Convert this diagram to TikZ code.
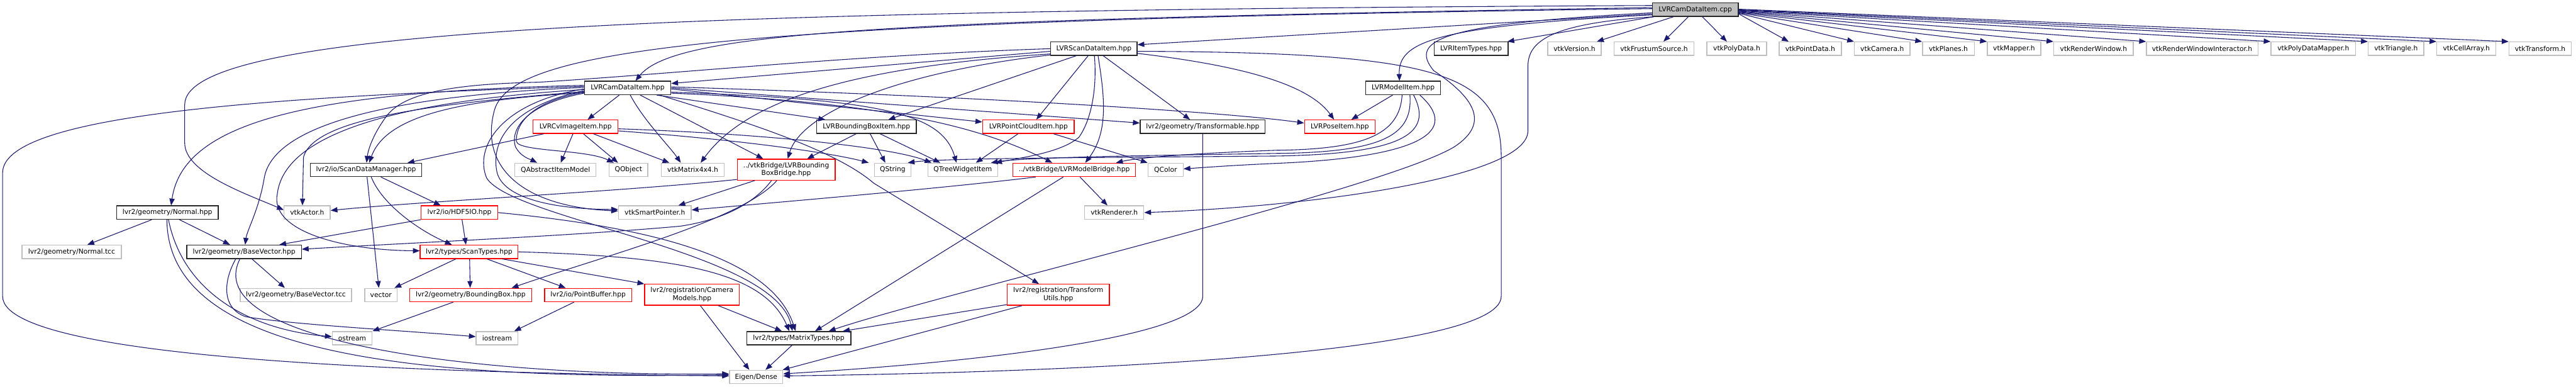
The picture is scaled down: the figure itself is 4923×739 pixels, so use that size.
\documentclass[tikz,border=0pt]{standalone}
\usepackage{fontspec}
\setmainfont{DejaVu Sans}
\usetikzlibrary{arrows.meta,calc}
\definecolor{edgec}{HTML}{191970}
\definecolor{grayb}{HTML}{BFBFBF}
\definecolor{redb}{HTML}{FF0000}
\tikzset{
  nd/.style={draw, rectangle, inner sep=0pt, minimum height=25.6pt, line width=1.6pt,
    align=center, fill=white, font=\fontsize{12.9pt}{15.5pt}\selectfont},
  blk/.style={nd, draw=black!85},
  rdb/.style={nd, draw=redb},
  gry/.style={nd, draw=grayb},
  rootb/.style={nd, draw=black!85, fill=grayb},
  two/.style={minimum height=40pt},
  e/.style={draw=edgec, line width=1.3pt, -{Triangle[length=13pt,width=10pt]}},
}
\begin{document}
\begin{tikzpicture}[x=1pt,y=-1pt]
\fill[white] (0,0) rectangle (4923,739);
\useasboundingbox (0,0) rectangle (4923,739);
% ---------------- nodes ----------------
\node[rootb, minimum width=164pt] (root) at (3240,18.5) {LVRCamDataItem.cpp};
% row 2
\node[blk, minimum width=165pt] (scanh) at (2090.5,93) {LVRScanDataItem.hpp};
\node[blk, minimum width=141pt] (itypes) at (2811.5,93) {LVRItemTypes.hpp};
\node[gry, minimum width=102pt] (vver) at (3009,93) {vtkVersion.h};
\node[gry, minimum width=152pt] (vfrus) at (3161,93) {vtkFrustumSource.h};
\node[gry, minimum width=114pt] (vpoly) at (3319,93) {vtkPolyData.h};
\node[gry, minimum width=119pt] (vpt) at (3459.5,93) {vtkPointData.h};
\node[gry, minimum width=106pt] (vcam) at (3597,93) {vtkCamera.h};
\node[gry, minimum width=99pt] (vplanes) at (3723.5,93) {vtkPlanes.h};
\node[gry, minimum width=102pt] (vmapper) at (3849,93) {vtkMapper.h};
\node[gry, minimum width=152pt] (vrw) at (4001,93) {vtkRenderWindow.h};
\node[gry, minimum width=213pt] (vrwi) at (4208.5,93) {vtkRenderWindowInteractor.h};
\node[gry, minimum width=162pt] (vpdm) at (4421,93) {vtkPolyDataMapper.h};
\node[gry, minimum width=106pt] (vtri) at (4579,93) {vtkTriangle.h};
\node[gry, minimum width=113pt] (vca) at (4713.5,93) {vtkCellArray.h};
\node[gry, minimum width=119pt] (vtrans) at (4854.5,93) {vtkTransform.h};
% row 3
\node[blk, minimum width=165pt] (camh) at (1199.5,168) {LVRCamDataItem.hpp};
\node[blk, minimum width=143pt] (modelh) at (2681.5,168) {LVRModelItem.hpp};
% row 4
\node[rdb, minimum width=162pt] (cvi) at (1100,242) {LVRCvImageItem.hpp};
\node[blk, minimum width=190pt] (bbi) at (1656,242) {LVRBoundingBoxItem.hpp};
\node[rdb, minimum width=175pt] (pci) at (1965.5,242) {LVRPointCloudItem.hpp};
\node[blk, minimum width=239pt] (tf) at (2298.5,242) {lvr2/geometry/Transformable.hpp};
\node[rdb, minimum width=135pt] (pose) at (2560.5,242) {LVRPoseItem.hpp};
% row 5
\node[blk, minimum width=213pt] (sdm) at (699.5,324.5) {lvr2/io/ScanDataManager.hpp};
\node[gry, minimum width=155pt] (qaim) at (1061.5,324.5) {QAbstractItemModel};
\node[gry, minimum width=74pt] (qobj) at (1201,324.5) {QObject};
\node[gry, minimum width=120pt] (mat) at (1324,324.5) {vtkMatrix4x4.h};
\node[rdb, two, minimum width=187pt] (bbb) at (1502.5,324) {../vtkBridge/LVRBounding\\BoxBridge.hpp};
\node[gry, minimum width=70pt] (qs) at (1706,324.5) {QString};
\node[gry, minimum width=134pt] (tw) at (1840,324.5) {QTreeWidgetItem};
\node[rdb, minimum width=234pt] (mb) at (2053,324.5) {../vtkBridge/LVRModelBridge.hpp};
\node[gry, minimum width=67pt] (qc) at (2227.5,324.5) {QColor};
% row 6
\node[blk, minimum width=194pt] (nrm) at (320,406) {lvr2/geometry/Normal.hpp};
\node[gry, minimum width=88pt] (act) at (587,406) {vtkActor.h};
\node[rdb, minimum width=146pt] (hdf) at (878,406) {lvr2/io/HDF5IO.hpp};
\node[gry, minimum width=139pt] (smart) at (1251.5,406) {vtkSmartPointer.h};
\node[gry, minimum width=113pt] (rend) at (2129.5,406) {vtkRenderer.h};
% row 7
\node[gry, minimum width=190pt] (ntcc) at (137,481) {lvr2/geometry/Normal.tcc};
\node[blk, minimum width=219pt] (bv) at (466.5,481) {lvr2/geometry/BaseVector.hpp};
\node[rdb, minimum width=187pt] (st) at (896.5,481) {lvr2/types/ScanTypes.hpp};
% row 8
\node[gry, minimum width=213pt] (bvtcc) at (565.5,563.5) {lvr2/geometry/BaseVector.tcc};
\node[gry, minimum width=62pt] (vec) at (728,563.5) {vector};
\node[rdb, minimum width=233pt] (bb) at (899.5,563.5) {lvr2/geometry/BoundingBox.hpp};
\node[rdb, minimum width=166pt] (pb) at (1124,563.5) {lvr2/io/PointBuffer.hpp};
\node[rdb, two, minimum width=181pt] (cam) at (1322.5,563) {lvr2/registration/Camera\\Models.hpp};
\node[rdb, two, minimum width=195pt] (tu) at (2022.5,563) {lvr2/registration/Transform\\Utils.hpp};
% row 9
\node[gry, minimum width=76pt] (ost) at (673,646) {ostream};
\node[gry, minimum width=80pt] (iost) at (950,646) {iostream};
\node[blk, minimum width=199pt] (mt) at (1526.5,646) {lvr2/types/MatrixTypes.hpp};
% row 10
\node[gry, minimum width=102pt] (eig) at (1445,720) {Eigen/Dense};
% ---------------- edges ----------------
% root -> row 2
\draw[e] (root) -- ([xshift=-2pt]itypes.north east);
\draw[e] (root) -- ([xshift=-9pt]vver.north east);
\draw[e] (root) -- ([xshift=18pt]vfrus.north);
\draw[e] (root) -- ([xshift=39pt]vpoly.north west);
\draw[e] ($(root.east)+(0,8)$) -- ([xshift=19pt]vpt.north west);
\draw[e] ($(root.east)+(0,7)$) -- (vcam.north west);
\draw[e] ($(root.east)+(0,6)$) -- (vplanes.north west);
\draw[e] ($(root.east)+(0,5)$) -- (vmapper.north west);
\draw[e] ($(root.east)+(0,4)$) -- (vrw.north west);
\draw[e] ($(root.east)+(0,3)$) -- (vrwi.north west);
\draw[e] ($(root.east)+(0,2)$) -- (vpdm.north west);
\draw[e] ($(root.east)+(0,1)$) -- (vtri.north west);
\draw[e] ($(root.east)+(0,0)$) -- (vca.north west);
\draw[e] ($(root.east)+(0,-1)$) -- (vtrans.north west);
% root -> others
\draw[e] ($(root.west)+(0,8)$) -- ($(scanh.north east)+(0,6)$);
\draw[e] ($(root.west)+(0,10)$) .. controls (2740,50) and (2672,80) .. ($(modelh.north)+(-7,0)$);
\draw[e] ($(root.west)+(0,-4)$) .. controls (1700,38) and (1290,60) .. ($(camh.north)+(15,0)$);
\draw[e] ($(root.west)+(0,-8)$) .. controls (1200,20) and (353,60) .. (353,200) -- (353,273)
   .. controls (353,330) and (470,370) .. ($(act.west)+(0,-5)$);
\draw[e] ($(root.west)+(0,-2)$) .. controls (1400,40) and (980,90) .. (945,210)
   .. controls (915,320) and (1000,395) .. ($(smart.west)+(0,-3)$);
\draw[e] ($(root.south west)+(3,0)$) .. controls (2960,45) and (2920,80) .. (2920,127) -- (2920,250)
   .. controls (2920,340) and (2500,395) .. (rend.east);
\draw[e] ($(root.west)+(0,6)$) .. controls (2760,45) and (2690,75) .. (2740,135)
   .. controls (2830,195) and (2840,240) .. (2780,280)
   .. controls (2650,360) and (1800,560) .. ($(mt.north east)+(-43,0)$);
% LVRScanDataItem.hpp
\draw[e] ($(scanh.west)+(0,5)$) -- ($(camh.north east)+(0,5)$);
\draw[e] (scanh.west) .. controls (1640,105) and (1300,140) .. (1030,157)
   .. controls (900,160) and (780,170) .. (740,220)
   .. controls (710,260) and (703,290) .. ($(sdm.north)+(1,0)$);
\draw[e] ($(scanh.west)+(0,10)$) .. controls (1600,130) and (1420,200) .. ($(mat.north)+(15,0)$);
\draw[e] ($(scanh.west)+(0,12)$) .. controls (1700,140) and (1530,220) .. ($(bbb.north)+(3,0)$);
\draw[e] ($(scanh.south)+(-34,0)$) -- ($(bbi.north east)+(-54,0)$);
\draw[e] ($(scanh.south)+(-11,0)$) -- ($(pci.north)+(15,0)$);
\draw[e] ($(scanh.south)+(1,0)$) .. controls (2097,170) and (2085,230) .. (2062,262)
   .. controls (2030,290) and (1960,300) .. ($(tw.north east)+(-6,0)$);
\draw[e] ($(scanh.south)+(8,0)$) .. controls (2110,180) and (2120,250) .. ($(mb.north)+(21,0)$);
\draw[e] ($(scanh.south)+(18,0)$) -- ($(tf.north west)+(96,0)$);
\draw[e] ($(scanh.east)+(0,9)$) .. controls (2370,125) and (2500,160) .. ($(pose.north)+(-11,0)$);
\draw[e] ($(scanh.east)+(0,5)$) .. controls (2750,100) and (2869,140) .. (2869,300) -- (2869,566)
   .. controls (2869,680) and (2000,712) .. ($(eig.east)+(0,-2)$);
% LVRModelItem.hpp
\draw[e] ($(modelh.south)+(-20,0)$) -- ($(pose.north)+(22,0)$);
\draw[e] ($(modelh.south)+(-2,0)$) .. controls (2675,260) and (2600,285) .. (2440,287)
   .. controls (2300,292) and (2180,300) .. ($(mb.north east)+(-38,0)$);
\draw[e] ($(modelh.south)+(13,0)$) .. controls (2700,255) and (2650,291) .. (2440,293)
   .. controls (2200,297) and (1960,300) .. ($(tw.north east)+(-14,0)$);
\draw[e] ($(modelh.south)+(20,0)$) .. controls (2740,255) and (2680,294) .. (2440,298)
   .. controls (2100,301) and (1800,302) .. ($(qs.north east)+(-7,0)$);
\draw[e] ($(modelh.south)+(32,0)$) .. controls (2790,250) and (2720,300) .. (2440,312)
   .. controls (2350,316) and (2300,320) .. ($(qc.east)+(0,-2)$);
% LVRCamDataItem.hpp
\draw[e] ($(camh.south)+(-16,0)$) -- ($(cvi.north)+(23,0)$);
\draw[e] ($(camh.south)+(5,0)$) .. controls (1230,230) and (1280,280) .. ($(mat.north)+(-23,0)$);
\draw[e] ($(camh.south)+(24,0)$) -- ($(bbb.north)+(-44,0)$);
\draw[e] ($(camh.south east)+(-28,0)$) -- ($(bbi.north west)+(17,0)$);
\draw[e] ($(camh.south east)+(-22,0)$) .. controls (1450,240) and (1600,290) .. (1670,350)
   -- ($(tu.north)+(-37,0)$);
\draw[e] ($(camh.east)+(0,2)$) -- ($(pci.west)+(0,-9)$);
\draw[e] ($(camh.east)+(0,0)$) -- ($(tf.west)+(0,-7)$);
\draw[e] ($(camh.east)+(0,-2)$) .. controls (1900,185) and (2350,215) .. ($(pose.west)+(0,-7)$);
\draw[e] ($(camh.east)+(0,8)$) .. controls (1680,190) and (1800,215) .. ($(tw.north)+(-12,0)$);
\draw[e] ($(camh.east)+(0,10)$) .. controls (1700,195) and (1880,245) .. ($(mb.north)+(-42,0)$);
\draw[e] ($(camh.west)+(0,9)$) .. controls (900,190) and (740,215) .. ($(sdm.north)+(6,0)$);
\draw[e] ($(camh.west)+(0,10)$) .. controls (1000,200) and (975,250) .. (985,280)
   .. controls (995,300) and (1015,305) .. ($(qaim.north)+(-35,0)$);
\draw[e] ($(camh.west)+(0,8)$) .. controls (1010,195) and (985,240) .. (987,270)
   .. controls (990,290) and (1120,285) .. ($(qobj.north)+(-28,0)$);
\draw[e] ($(camh.west)+(0,5)$) .. controls (990,200) and (935,260) .. (950,330)
   .. controls (965,385) and (1080,400) .. ($(smart.west)+(0,-6)$);
\draw[e] ($(camh.west)+(0,2)$) .. controls (960,195) and (905,280) .. (930,340)
   .. controls (980,420) and (1480,480) .. ($(mt.north)+(-12,0)$);
\draw[e] ($(camh.west)+(0,-5)$) .. controls (600,175) and (350,230) .. ($(nrm.north)+(7,0)$);
\draw[e] ($(camh.west)+(0,-1)$) .. controls (700,185) and (520,250) .. (505,340)
   .. controls (495,400) and (472,440) .. ($(bv.north)+(2,0)$);
\draw[e] ($(camh.west)+(0,3)$) .. controls (650,200) and (540,290) .. (530,370)
   .. controls (515,440) and (650,478) .. ($(st.west)+(0,-2)$);
\draw[e] ($(camh.west)+(0,7)$) .. controls (800,200) and (600,230) .. (580,300)
   -- ($(act.north)+(-9,0)$);
\draw[e] ($(camh.west)+(0,-3)$) .. controls (500,185) and (5,220) .. (5,330) -- (5,566)
   .. controls (5,700) and (1000,714) .. ($(eig.west)+(0,-2)$);
% LVRCvImageItem.hpp
\draw[e] ($(cvi.south)+(-5,0)$) -- ($(qaim.north)+(10,0)$);
\draw[e] ($(cvi.south)+(15,0)$) -- ($(qobj.north)+(-20,0)$);
\draw[e] ($(cvi.south)+(34,0)$) -- ($(mat.north west)+(16,0)$);
\draw[e] ($(cvi.south west)+(21,0)$) -- ($(sdm.north east)+(-28,0)$);
\draw[e] ($(cvi.east)+(0,4)$) .. controls (1450,255) and (1700,280) .. ($(tw.north west)+(8,0)$);
\draw[e] ($(cvi.east)+(0,8)$) .. controls (1450,270) and (1600,295) .. ($(qs.north west)+(-10,0)$);
% LVRBoundingBoxItem.hpp, LVRPointCloudItem.hpp
\draw[e] ($(bbi.south)+(7,0)$) -- ($(qs.north)+(-14,0)$);
\draw[e] ($(bbi.south)+(26,0)$) -- ($(tw.north)+(-43,0)$);
\draw[e] ($(bbi.south)+(-20,0)$) -- ($(bbb.north)+(40,0)$);
\draw[e] ($(pci.south)+(-20,0)$) -- ($(tw.north)+(25,0)$);
\draw[e] ($(pci.south)+(48,0)$) -- (qc.north west);
% Transformable
\draw[e] (tf.south) -- (2298.5,566) .. controls (2298.5,640) and (1900,690) .. ($(eig.east)+(0,-6)$);
% LVRBoundingBoxBridge
\draw[e] ($(bbb.south west)+(0,-2)$) .. controls (1200,365) and (800,385) .. ($(act.east)+(0,-4)$);
\draw[e] ($(bbb.south)+(-60,0)$) -- ($(smart.north)+(45,0)$);
\draw[e] ($(bbb.south)+(-28,0)$) .. controls (1440,390) and (1380,420) .. (1300,432)
   .. controls (1100,450) and (820,462) .. ($(bv.east)+(0,-5)$);
\draw[e] ($(bbb.south)+(-18,0)$) .. controls (1420,420) and (1150,490) .. ($(bb.north east)+(-39,0)$);
% LVRModelBridge
\draw[e] ($(mb.south west)+(44,0)$) .. controls (1800,360) and (1500,385) .. ($(smart.east)+(0,-5)$);
\draw[e] ($(mb.south)+(-21,0)$) -- ($(mt.north east)+(-69,0)$);
\draw[e] ($(mb.south)+(11,0)$) -- ($(rend.north)+(-13,0)$);
% ScanDataManager
\draw[e] ($(sdm.south)+(2,0)$) -- ($(vec.north)+(-4,0)$);
\draw[e] ($(sdm.south)+(10,0)$) .. controls (730,390) and (800,440) .. ($(st.north)+(-33,0)$);
\draw[e] ($(sdm.south east)+(-79,0)$) -- ($(hdf.north west)+(38,0)$);
% HDF5IO
\draw[e] ($(hdf.south)+(5,0)$) -- ($(st.north)+(-6,0)$);
\draw[e] (hdf.south west) -- ($(bv.north east)+(-43,0)$);
\draw[e] (hdf.east) .. controls (1200,430) and (1470,480) .. ($(mt.north)+(-6,0)$);
% ScanTypes
\draw[e] ($(st.south west)+(69,0)$) -- ($(vec.north east)+(-6,0)$);
\draw[e] ($(st.south)+(1,0)$) -- ($(bb.north)+(-1,0)$);
\draw[e] ($(st.south)+(34,0)$) -- ($(pb.north)+(-43,0)$);
\draw[e] ($(st.south east)+(-31,0)$) -- (cam.north west);
\draw[e] (st.east) .. controls (1300,490) and (1460,520) .. ($(mt.north)+(-18,0)$);
% lower nodes
\draw[e] ($(cam.south east)+(-41,0)$) -- ($(mt.north west)+(68,0)$);
\draw[e] ($(cam.south)+(16,0)$) -- ($(eig.north)+(-13,0)$);
\draw[e] ($(tu.south west)+(0,-2)$) -- ($(mt.north east)+(-16,0)$);
\draw[e] ($(tu.south west)+(29,0)$) -- ($(eig.north east)+(-1,0)$);
\draw[e] ($(mt.south)+(-13,0)$) -- ($(eig.north)+(18,0)$);
\draw[e] ($(bb.south west)+(84,0)$) -- (ost.north east);
\draw[e] ($(pb.south)+(-27,0)$) -- ($(iost.north east)+(-8,0)$);
% Normal / BaseVector
\draw[e] ($(nrm.south)+(-30,0)$) -- ($(ntcc.north)+(30,0)$);
\draw[e] ($(nrm.south)+(23,0)$) -- ($(bv.north)+(-27,0)$);
\draw[e] ($(nrm.south)+(2,0)$) .. controls (350,560) and (480,630) .. ($(ost.west)+(0,-3)$);
\draw[e] ($(nrm.south)+(-1,0)$) .. controls (320,680) and (800,725) .. ($(eig.west)+(0,-4)$);
\draw[e] ($(bv.south)+(15,0)$) -- ($(bvtcc.north)+(-21,0)$);
\draw[e] ($(bv.south)+(-16,0)$) .. controls (425,540) and (425,590) .. (470,605)
   .. controls (560,620) and (750,630) .. ($(iost.west)+(0,-3)$);
\draw[e] ($(bv.south)+(-8,0)$) .. controls (380,650) and (900,720) .. ($(eig.west)+(0,-6)$);
\end{tikzpicture}
\end{document}
